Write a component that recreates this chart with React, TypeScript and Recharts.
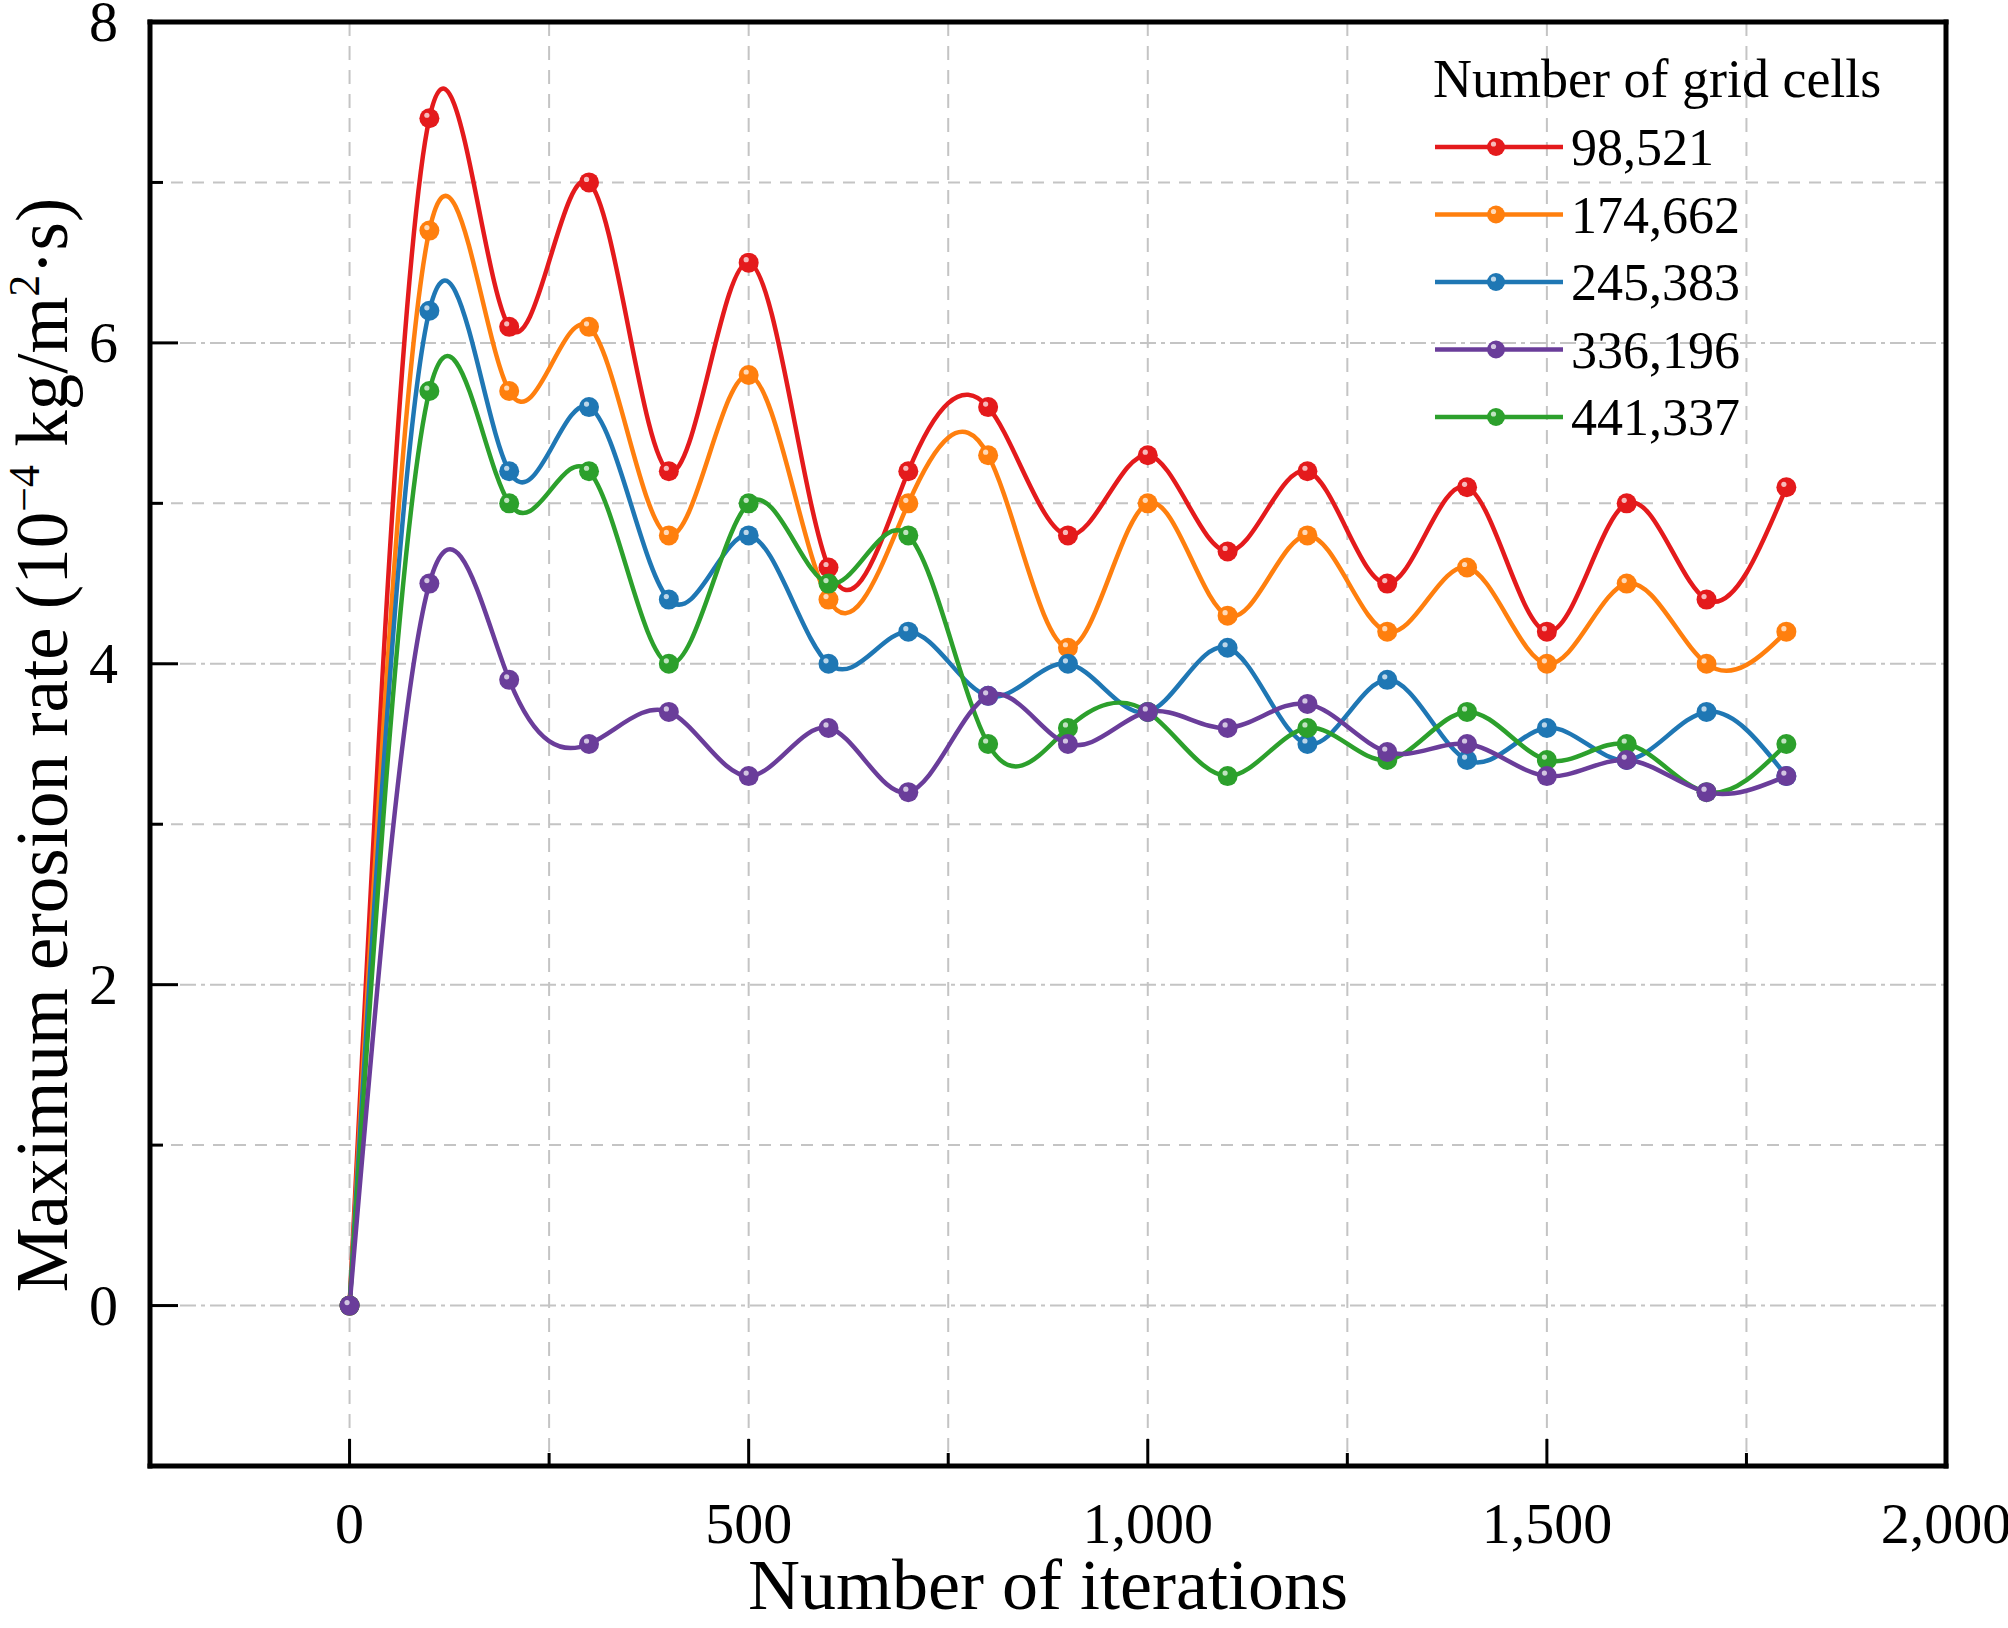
import React from 'react';
import { LineChart, Line, XAxis, YAxis, CartesianGrid, ReferenceLine } from 'recharts';

// ---------- data ----------
const iterations = [0, 100, 200, 300, 400, 500, 600, 700, 800, 900, 1000, 1100, 1200, 1300, 1400, 1500, 1600, 1700, 1800];
const cells98521 = [0, 7.4, 6.1, 7.0, 5.2, 6.5, 4.6, 5.2, 5.6, 4.8, 5.3, 4.7, 5.2, 4.5, 5.1, 4.2, 5.0, 4.4, 5.1];
const cells174662 = [0, 6.7, 5.7, 6.1, 4.8, 5.8, 4.4, 5.0, 5.3, 4.1, 5.0, 4.3, 4.8, 4.2, 4.6, 4.0, 4.5, 4.0, 4.2];
const cells245383 = [0, 6.2, 5.2, 5.6, 4.4, 4.8, 4.0, 4.2, 3.8, 4.0, 3.7, 4.1, 3.5, 3.9, 3.4, 3.6, 3.4, 3.7, 3.3];
const cells336196 = [0, 4.5, 3.9, 3.5, 3.7, 3.3, 3.6, 3.2, 3.8, 3.5, 3.7, 3.6, 3.75, 3.45, 3.5, 3.3, 3.4, 3.2, 3.3];
const cells441337 = [0, 5.7, 5.0, 5.2, 4.0, 5.0, 4.5, 4.8, 3.5, 3.6, 3.7, 3.3, 3.6, 3.4, 3.7, 3.4, 3.5, 3.2, 3.5];

const seriesKeys = ['c98521', 'c174662', 'c245383', 'c336196', 'c441337'];
const seriesNames = ['98,521', '174,662', '245,383', '336,196', '441,337'];
const seriesColors = ['#E41A1C', '#FF7F0E', '#1F77B4', '#6A3D9A', '#2CA02C'];
const seriesValues = [cells98521, cells174662, cells245383, cells336196, cells441337];
// drawing order (purple drawn last, on top)
const drawOrder = [0, 1, 2, 4, 3];

const xMajorTicks = [0, 500, 1000, 1500, 2000];
const xMajorLabels = ['0', '500', '1,000', '1,500', '2,000'];
const xMinorTicks = [250, 750, 1250, 1750];
const yMajorTicks = [0, 2, 4, 6, 8];
const yMajorLabels = ['0', '2', '4', '6', '8'];
const yMinorTicks = [1, 3, 5, 7];
const xGridValues = [0, 250, 500, 750, 1000, 1250, 1500, 1750];
const yGridMajor = [0, 2, 4, 6];
const yGridMinor = [1, 3, 5, 7];

const xTitle = 'Number of iterations';
const legendTitle = 'Number of grid cells';

const tableData = iterations.map((it, i) => {
  const row: Record<string, number> = { it };
  seriesKeys.forEach((k, s) => {
    row[k] = seriesValues[s][i];
  });
  return row;
});

// ---------- layout ----------
const W = 2008;
const H = 1628;
const PLOT_LEFT = 150;
const PLOT_RIGHT = 1946;
const PLOT_TOP = 22;
const PLOT_BOTTOM = 1466;
const FONT = "'Liberation Serif', 'Times New Roman', serif";
const GRID = '#c4c4c4';

const SphereDot = (props: any) => {
  const { cx, cy, color, r = 10 } = props;
  if (cx == null || cy == null) return null;
  return (
    <g>
      <circle cx={cx} cy={cy} r={r} fill={color} />
      <circle cx={cx - 2.5} cy={cy - 3} r={2.6} fill="#ffffff" opacity={0.7} />
    </g>
  );
};

const XTick = (props: any) => {
  const { x, payload } = props;
  const v = payload?.value;
  const mi = xMajorTicks.indexOf(v);
  const major = mi >= 0;
  return (
    <g>
      <line x1={x} x2={x} y1={PLOT_BOTTOM} y2={PLOT_BOTTOM - (major ? 27 : 13)} stroke="#000" strokeWidth={3} />
      {major && (
        <text x={x} y={1543} textAnchor="middle" fontSize={58} fontFamily={FONT} fill="#000">
          {xMajorLabels[mi]}
        </text>
      )}
    </g>
  );
};

const YTick = (props: any) => {
  const { y, payload } = props;
  const v = payload?.value;
  const mi = yMajorTicks.indexOf(v);
  const major = mi >= 0;
  return (
    <g>
      <line x1={PLOT_LEFT} x2={PLOT_LEFT + (major ? 28 : 13)} y1={y} y2={y} stroke="#000" strokeWidth={3} />
      {major && (
        <text x={118} y={y + 19} textAnchor="end" fontSize={58} fontFamily={FONT} fill="#000">
          {yMajorLabels[mi]}
        </text>
      )}
    </g>
  );
};

const XTitle = () => (
  <text x={(PLOT_LEFT + PLOT_RIGHT) / 2} y={1609} textAnchor="middle" fontSize={72} fontFamily={FONT} fill="#000">
    {xTitle}
  </text>
);

const YTitle = () => (
  <text
    x={67}
    y={745}
    transform="rotate(-90 67 745)"
    textAnchor="middle"
    fontSize={73}
    fontFamily={FONT}
    fill="#000"
  >
    Maximum erosion rate (10
    <tspan dy={-28} fontSize={44}>−4</tspan>
    <tspan dy={28}> kg/m</tspan>
    <tspan dy={-28} fontSize={44}>2</tspan>
    <tspan dy={28}>·s)</tspan>
  </text>
);

const Legend = () => {
  const rowY0 = 147;
  const rowGap = 67.5;
  return (
    <svg
      width={W}
      height={480}
      style={{ position: 'absolute', left: 0, top: 0, pointerEvents: 'none' }}
    >
      <text x={1433} y={97} fontSize={54} fontFamily={FONT} fill="#000">
        {legendTitle}
      </text>
      {seriesNames.map((name, i) => {
        const y = rowY0 + i * rowGap;
        return (
          <g key={name}>
            <line x1={1435} x2={1563} y1={y} y2={y} stroke={seriesColors[i]} strokeWidth={4.5} />
            <SphereDot cx={1496} cy={y} color={seriesColors[i]} r={9} />
            <text x={1571} y={y + 18} fontSize={52} fontFamily={FONT} fill="#000">
              {name}
            </text>
          </g>
        );
      })}
    </svg>
  );
};

export default function App() {
  const allXTicks = [...xMajorTicks, ...xMinorTicks].sort((a, b) => a - b);
  const allYTicks = [...yMajorTicks, ...yMinorTicks].sort((a, b) => a - b);
  return (
    <div style={{ position: 'absolute', left: 0, top: 0, width: W, height: H, background: '#fff' }}>
      <LineChart
        width={W}
        height={H}
        data={tableData}
        margin={{ top: PLOT_TOP, right: W - PLOT_RIGHT, left: 0, bottom: 0 }}
      >
        <CartesianGrid
          horizontal={false}
          verticalValues={xGridValues}
          stroke={GRID}
          strokeWidth={2}
          strokeDasharray="14 10"
        />
        <CartesianGrid
          vertical={false}
          horizontalValues={yGridMajor}
          stroke={GRID}
          strokeWidth={2}
          strokeDasharray="16 5 4 5"
        />
        <CartesianGrid
          vertical={false}
          horizontalValues={yGridMinor}
          stroke={GRID}
          strokeWidth={2}
          strokeDasharray="12 9"
        />
        <XAxis
          dataKey="it"
          type="number"
          domain={[-250, 2000]}
          ticks={allXTicks}
          interval={0}
          allowDataOverflow
          tickLine={false}
          axisLine={{ stroke: '#000', strokeWidth: 5, strokeLinecap: 'square' }}
          height={H - PLOT_BOTTOM}
          tick={<XTick />}
          label={<XTitle />}
        />
        <YAxis
          type="number"
          domain={[-1, 8]}
          ticks={allYTicks}
          interval={0}
          allowDataOverflow
          tickLine={false}
          axisLine={{ stroke: '#000', strokeWidth: 5, strokeLinecap: 'square' }}
          width={PLOT_LEFT}
          tick={<YTick />}
          label={<YTitle />}
        />
        <ReferenceLine y={8} stroke="#000" strokeWidth={5} strokeLinecap="square" />
        <ReferenceLine x={2000} stroke="#000" strokeWidth={5} strokeLinecap="square" />
        {drawOrder.map((s) => (
          <Line
            key={seriesKeys[s]}
            dataKey={seriesKeys[s]}
            name={seriesNames[s]}
            type="natural"
            stroke={seriesColors[s]}
            strokeWidth={4.5}
            isAnimationActive={false}
            dot={(p: any) => <SphereDot key={`${seriesKeys[s]}-${p.index}`} cx={p.cx} cy={p.cy} color={seriesColors[s]} />}
            activeDot={false}
          />
        ))}
      </LineChart>
      <Legend />
    </div>
  );
}
